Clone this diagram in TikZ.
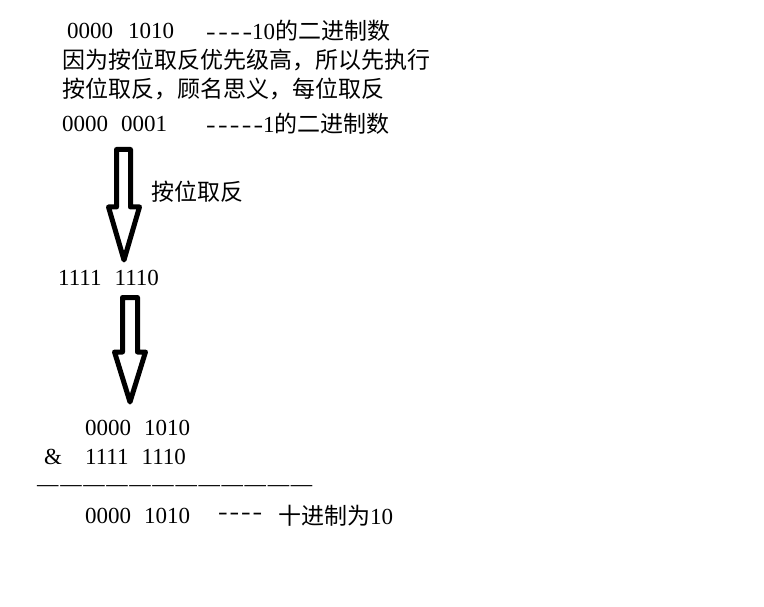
\documentclass[tikz,border=0pt]{standalone}
\usepackage{fontspec}
\setmainfont{Liberation Serif}
\newfontfamily\cjk{Noto Sans CJK SC}
\newcommand{\hy}{\scalebox{1.25}[1]{-}}
\newcommand{\emd}{\scalebox{0.93}[1]{—}}
\begin{document}
\begin{tikzpicture}[x=1pt,y=-1pt,
  txt/.style={anchor=west,inner sep=0pt,font=\fontsize{23}{27}\selectfont},
  bigarrow/.style={draw=black,line width=5pt,line join=round,fill=white}]
\useasboundingbox[fill=white] (0,0) rectangle (764,607);
% top lines
\node[txt] (a1) at (67,31) {0000\hspace{15pt}1010};
\node[txt] (a2) at (206,31) {\makebox[46pt][s]{\hy\hfill\hy\hfill\hy\hfill\hy}10{\cjk 的二进制数}};
\node[txt] (b1) at (62,60) {\cjk 因为按位取反优先级高，所以先执行};
\node[txt] (b2) at (62,89) {\cjk 按位取反，顾名思义，每位取反};
\node[txt] (c1) at (62,124) {0000\hspace{13pt}0001};
\node[txt] (c2) at (206,124) {\makebox[57pt][s]{\hy\hfill\hy\hfill\hy\hfill\hy\hfill\hy}1{\cjk 的二进制数}};
% arrow 1
\draw[bigarrow] (116.5,149.5) -- (130.5,149.5) -- (130.5,207) -- (139.5,207) -- (124,260) -- (108.5,207) -- (116.5,207) -- cycle;
\node[txt] (lab) at (151,192) {\cjk 按位取反};
\node[txt] (d1) at (58,278) {1111\hspace{13pt}1110};
% arrow 2
\draw[bigarrow] (122.5,297.5) -- (137.5,297.5) -- (137.5,352) -- (145.5,352) -- (130,402) -- (114.5,352) -- (122.5,352) -- cycle;
% bottom
\node[txt] (e1) at (85,428) {0000\hspace{13pt}1010};
\node[txt,anchor=center] (amp) at (53,457) {\&};
\node[txt] (e2) at (85,457) {1111\hspace{13pt}1110};
\node[txt] (rule) at (37,489) {\makebox[275pt][s]{\emd\hfill\emd\hfill\emd\hfill\emd\hfill\emd\hfill\emd\hfill\emd\hfill\emd\hfill\emd\hfill\emd\hfill\emd\hfill\emd}};
\node[txt] (f1) at (85,516) {0000\hspace{13pt}1010};
\node[txt] (f2) at (218,516) {\makebox[44pt][s]{\hy\hfill\hy\hfill\hy\hfill\hy}};
\node[txt] (f3) at (278,516) {\cjk 十进制为{\rmfamily 10}};
\end{tikzpicture}
\end{document}
